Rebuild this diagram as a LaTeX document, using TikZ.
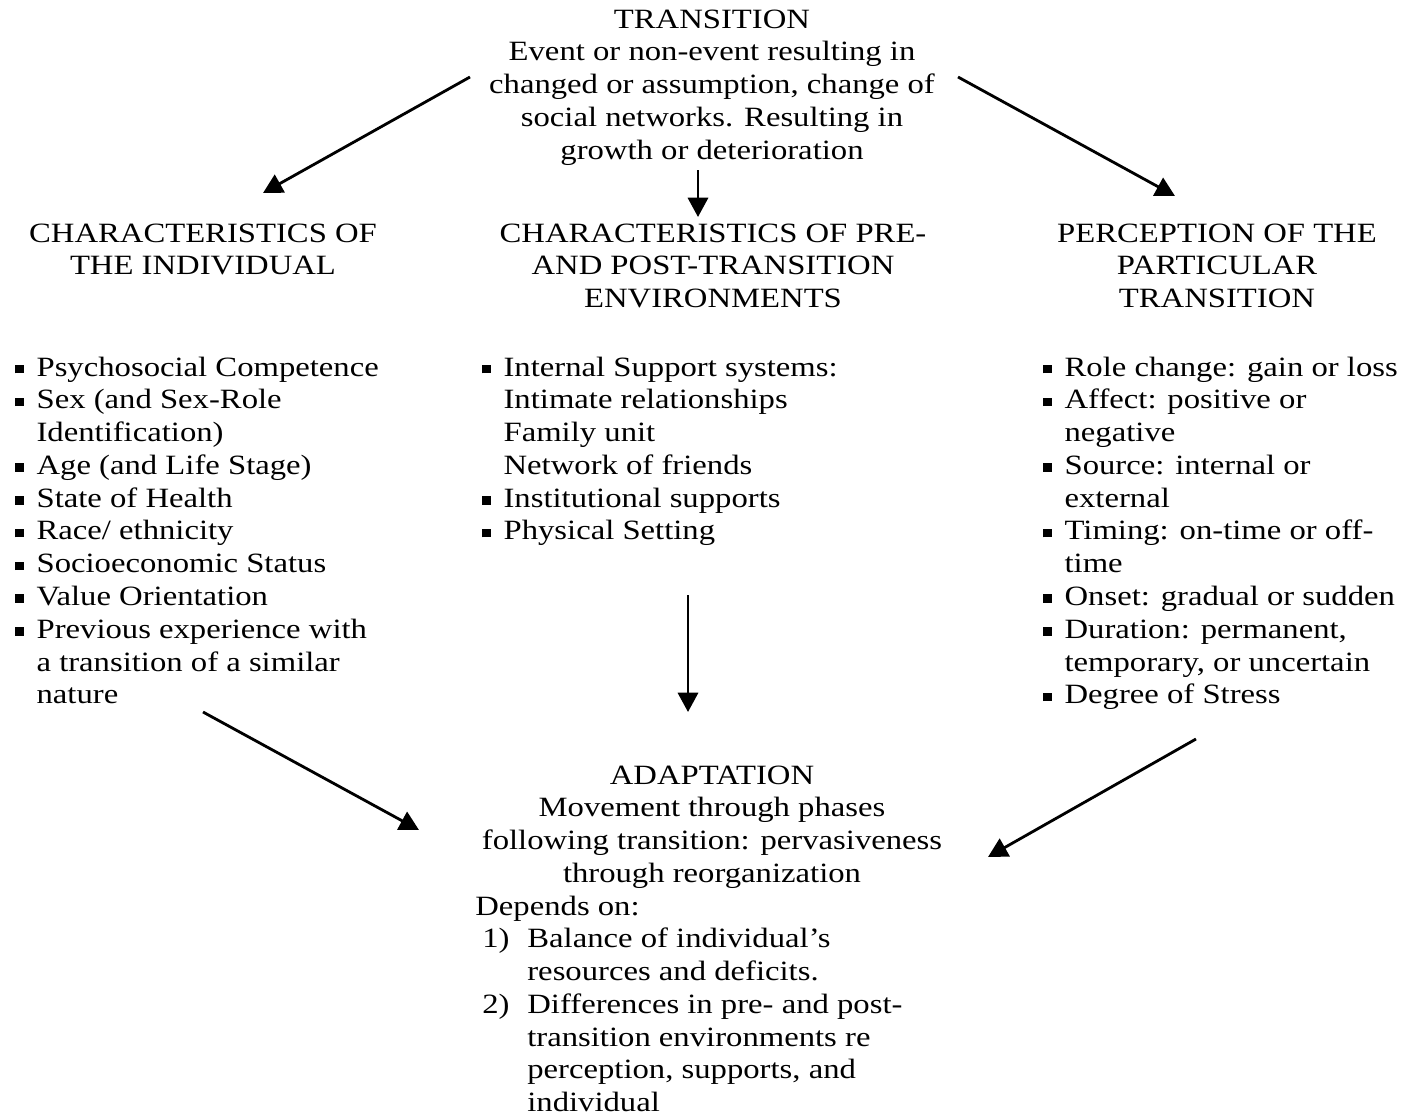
\documentclass[tikz,border=0pt]{standalone}
\usepackage{fontspec}
\setmainfont{Liberation Serif}[FakeStretch=1.17]
\usetikzlibrary{arrows.meta}
\newcommand\sq{\rule[1.5pt]{4.8pt}{4.8pt}}
\newcommand\nr[1]{\makebox[29.6pt][l]{\hspace{4pt}#1}}
\begin{document}
\begin{tikzpicture}[x=0.02cm,y=-0.02cm,>={Triangle[length=11pt,width=11.5pt]},
	txt/.style={inner sep=0pt,font=\fontsize{15.9}{18.66}\selectfont},
	arr/.style={->,line width=1.6pt}]
	\useasboundingbox (0,0) rectangle (1414,1116);
	\node[txt,anchor=base] (trans) at (712,28) {\begin{tabular}[t]{@{}c@{}}TRANSITION\\
		Event or non-event resulting in\\ changed or assumption, change of\\
		social networks. Resulting in\\ growth or deterioration\end{tabular}};
	\node[txt,anchor=base] (indiv) at (203,242) {\begin{tabular}[t]{@{}c@{}}CHARACTERISTICS OF\\ THE INDIVIDUAL\end{tabular}};
	\node[txt,anchor=base] (envir) at (713,242) {\begin{tabular}[t]{@{}c@{}}CHARACTERISTICS OF PRE-\\ AND POST-TRANSITION\\ ENVIRONMENTS\end{tabular}};
	\node[txt,anchor=base] (percep) at (1217,242) {\begin{tabular}[t]{@{}c@{}}PERCEPTION OF THE\\ PARTICULAR\\ TRANSITION\end{tabular}};
	\node[txt,anchor=base west] (indlist) at (15,376) {\begin{tabular}[t]{@{}l@{\hspace{7.3pt}}l@{}}
		\sq & Psychosocial Competence\\ \sq & Sex (and Sex-Role\\ & Identification)\\
		\sq & Age (and Life Stage)\\ \sq & State of Health\\ \sq & Race/ ethnicity\\
		\sq & Socioeconomic Status\\ \sq & Value Orientation\\ \sq & Previous experience with\\
		& a transition of a similar\\ & nature\end{tabular}};
	\node[txt,anchor=base west] (envlist) at (482,376) {\begin{tabular}[t]{@{}l@{\hspace{7.3pt}}l@{}}
		\sq & Internal Support systems:\\ & Intimate relationships\\ & Family unit\\
		& Network of friends\\ \sq & Institutional supports\\ \sq & Physical Setting\end{tabular}};
	\node[txt,anchor=base west] (perlist) at (1043,376) {\begin{tabular}[t]{@{}l@{\hspace{7.3pt}}l@{}}
		\sq & Role change: gain or loss\\ \sq & Affect: positive or\\ & negative\\
		\sq & Source: internal or\\ & external\\ \sq & Timing: on-time or off-\\ & time\\
		\sq & Onset: gradual or sudden\\ \sq & Duration: permanent,\\
		& temporary, or uncertain\\ \sq & Degree of Stress\end{tabular}};
	\node[txt,anchor=base] (adapt) at (712,784) {\begin{tabular}[t]{@{}c@{}}ADAPTATION\\
		Movement through phases\\ following transition: pervasiveness\\ through reorganization\end{tabular}};
	\node[txt,anchor=base west] (depends) at (475,915) {\begin{tabular}[t]{@{}l@{}l@{}}
		\multicolumn{2}{@{}l@{}}{Depends on:}\\ \nr{1)} & Balance of individual’s\\
		& resources and deficits.\\ \nr{2)} & Differences in pre- and post-\\
		& transition environments re\\ & perception, supports, and\\ & individual\end{tabular}};
	\path
	(470,77) coordinate (tl) (263,193) coordinate (il)
	(698,170) coordinate (tm) (698,217) coordinate (em)
	(958,77) coordinate (tr) (1175,196) coordinate (pr)
	(688,595) coordinate (eb) (688,712) coordinate (am)
	(203,712) coordinate (ib) (419,830) coordinate (al)
	(1196,739) coordinate (pb) (988,857) coordinate (ar)
	;
	\foreach \a/\b in {tl/il,tm/em,tr/pr,eb/am,ib/al,pb/ar}\draw[arr] (\a)--(\b);
\end{tikzpicture}
\end{document}
